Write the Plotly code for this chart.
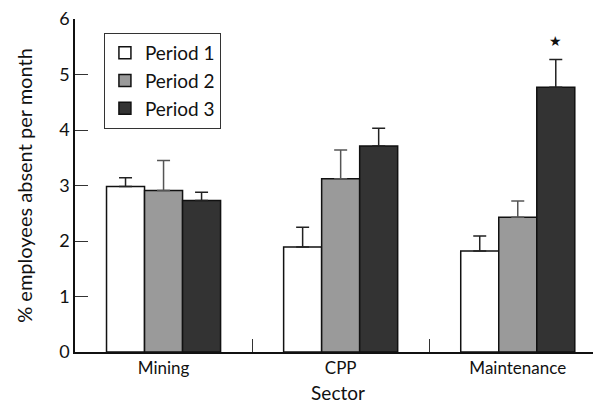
import plotly.graph_objects as go

sectors = ["Mining", "CPP", "Maintenance"]
periods = ["Period 1", "Period 2", "Period 3"]
means = {
    "Period 1": [2.98, 1.89, 1.82],
    "Period 2": [2.91, 3.12, 2.43],
    "Period 3": [2.73, 3.71, 4.77],
}
errors = {
    "Period 1": [0.16, 0.36, 0.27],
    "Period 2": [0.54, 0.52, 0.29],
    "Period 3": [0.15, 0.32, 0.50],
}
colors = {"Period 1": "#ffffff", "Period 2": "#9a9a9a", "Period 3": "#333333"}
err_colors = {"Period 1": "#222222", "Period 2": "#555555", "Period 3": "#222222"}

FONT = "Lato"

fig = go.Figure()
for p in periods:
    fig.add_trace(go.Bar(
        name=p, x=sectors, y=means[p],
        marker=dict(color=colors[p], line=dict(color="#111111", width=1.5)),
        error_y=dict(type="data", array=errors[p], arrayminus=[0] * 3, symmetric=False,
                     color=err_colors[p], thickness=1.5, width=6.5),
    ))

fig.add_annotation(x=2, y=5.62, xshift=38, text="★", showarrow=False,
                   font=dict(size=14, color="#111111"))

# page body has an 8px margin; figure sized/placed to compensate
fig.update_layout(
    width=593, height=396,
    margin=dict(l=67, r=0, t=11, b=52, autoexpand=False),
    paper_bgcolor="white", plot_bgcolor="white",
    barmode="group", bargap=0.356, bargroupgap=0,
    font=dict(family=FONT, size=17, color="#111111"),
    showlegend=True,
    legend=dict(x=0.055, y=0.958, xanchor="left", yanchor="top",
                bordercolor="#333333", borderwidth=1, bgcolor="white",
                font=dict(size=19, family=FONT), tracegroupgap=0),
    xaxis=dict(range=[-0.5, 2.47], showline=True, linecolor="#111111", linewidth=1.5,
               ticks="inside", tickson="boundaries", ticklen=13, tickcolor="#333333",
               tickwidth=1, showgrid=False, zeroline=False, automargin=False,
               title=dict(text="Sector", font=dict(size=19), standoff=10),
               tickfont=dict(size=17)),
    yaxis=dict(range=[0, 6], tickvals=[0, 1, 2, 3, 4, 5, 6], showline=True,
               linecolor="#111111", linewidth=1.5, ticks="inside", ticklen=13,
               tickcolor="#333333", tickwidth=1, showgrid=False, zeroline=False,
               automargin=False, ticklabeloverflow="allow",
               title=dict(text="% employees absent per month", font=dict(size=20), standoff=21),
               tickfont=dict(size=18)),
)

fig.write_html("out.html")
